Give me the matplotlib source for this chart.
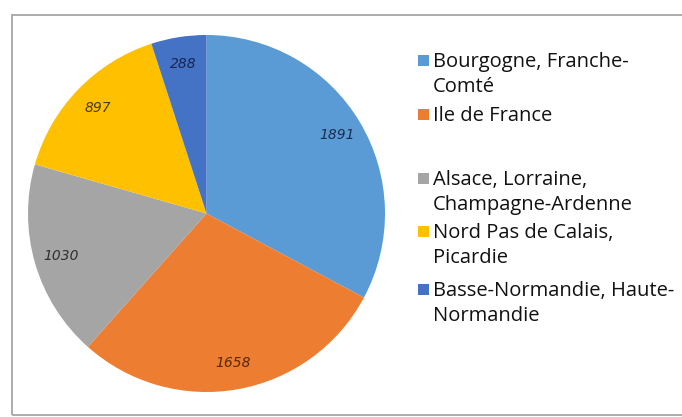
import matplotlib
matplotlib.use("Agg")
import matplotlib.pyplot as plt
from matplotlib.patches import Rectangle

regions = [
    "Bourgogne, Franche-\nComté",
    "Ile de France",
    "Alsace, Lorraine,\nChampagne-Ardenne",
    "Nord Pas de Calais,\nPicardie",
    "Basse-Normandie, Haute-\nNormandie",
]
values = [1891, 1658, 1030, 897, 288]

colors = ["#5b9bd5", "#ed7d31", "#a5a5a5", "#ffc000", "#4472c4"]
label_colors = ["#1c2d52", "#5a2608", "#303030", "#4d3c08", "#182650"]

W, H = 682, 417
fig = plt.figure(figsize=(W / 100, H / 100), dpi=100)

# chart frame
fig.patches.append(Rectangle((12 / W, 2 / H), 1.0, (H - 17) / H,
                             transform=fig.transFigure, fill=False,
                             edgecolor="#a6a6a6", linewidth=1.3))

# pie centred at (206, 213) px, radius 178 px
cx, cy, r = 206.5, 213.5, 178.5
ax = fig.add_axes([(cx - r) / W, (H - cy - r) / H, 2 * r / W, 2 * r / H])
wedges, _, autotexts = ax.pie(values, colors=colors, startangle=90,
                              counterclock=False, autopct=lambda p: "",
                              pctdistance=0.85, radius=1.0)
ax.set_xlim(-1, 1)
ax.set_ylim(-1, 1)
ax.set_aspect("equal")
ax.axis("off")

for t, v, c in zip(autotexts, values, label_colors):
    t.set_text(str(v))
    t.set_color(c)
    t.set_fontstyle("italic")
    t.set_fontsize(10)
    t.set_fontfamily("DejaVu Sans")

# legend drawn by hand, with a wider gap after the second entry
entry_top = [67, 121, 185, 238, 296]   # baseline of first line, px
line_h = 25
for name, col, base in zip(regions, colors, entry_top):
    fig.patches.append(Rectangle((418 / W, (H - base + 1) / H), 11 / W, 11 / H,
                                 transform=fig.transFigure,
                                 facecolor=col, edgecolor="none"))
    for i, line in enumerate(name.split("\n")):
        fig.text(433 / W, (H - base - i * line_h) / H, line,
                 fontsize=14.5, family="Open Sans", color="#111111",
                 va="baseline", ha="left")

fig.savefig("out.png", dpi=100, facecolor="white")
